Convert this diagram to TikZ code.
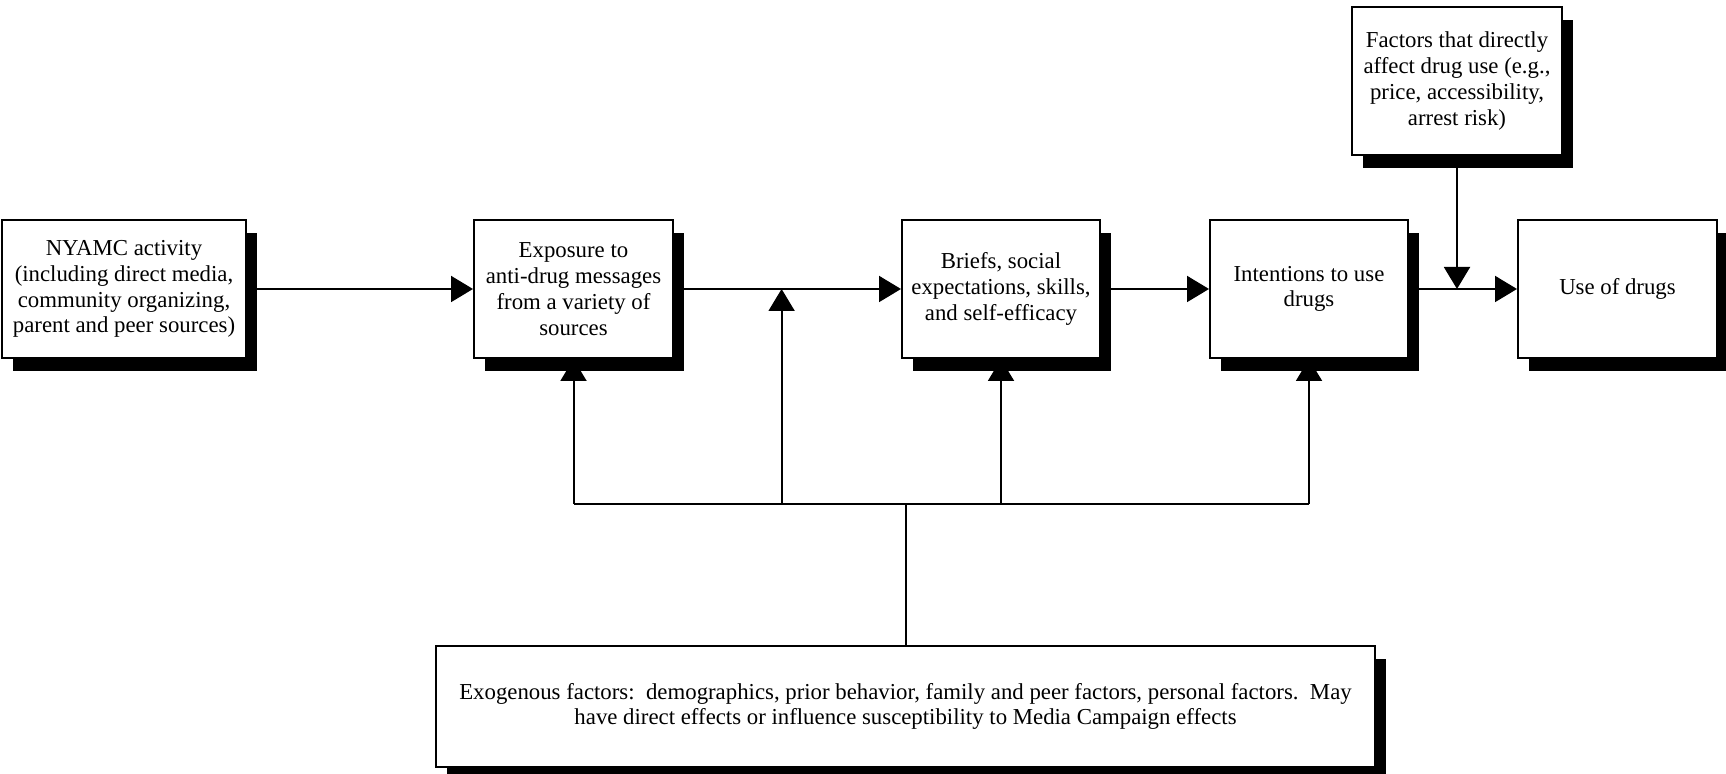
\documentclass[tikz,border=0pt]{standalone}
\usepackage{fontspec}
\setmainfont{Liberation Serif}
\newfontfamily\tnr{Liberation Serif}
\usetikzlibrary{arrows.meta,shadows,backgrounds}
\begin{document}
\begin{tikzpicture}[x=0.5pt,y=-0.5pt,
  box/.style={draw=black, line width=1pt, fill=white, align=center, inner sep=0pt,
    font=\tnr\fontsize{11.4}{12.9}\selectfont,
    drop shadow={shadow xshift=5.5pt, shadow yshift=-6.5pt, opacity=1, fill=black}},
  link/.style={draw=black, line width=1pt},
  arr/.style={link, -{Triangle[length=11pt,width=13pt]}}]
\useasboundingbox (0,0) rectangle (1726,774);
\node[box, minimum width=122pt, minimum height=69pt] (nyamc) at (124,289)
  {NYAMC activity\\(including direct media,\\community organizing,\\parent and peer sources)};
\node[box, minimum width=99.5pt, minimum height=69pt] (expo) at (573.5,289)
  {Exposure to\\anti-drug messages\\from a variety of\\sources};
\node[box, minimum width=99pt, minimum height=69pt] (briefs) at (1001,289)
  {Briefs, social\\expectations, skills,\\and self-efficacy};
\node[box, minimum width=99pt, minimum height=69pt] (intent) at (1309,289)
  {Intentions to use\\drugs};
\node[box, minimum width=99.5pt, minimum height=69pt] (use) at (1617.5,289)
  {Use of drugs};
\node[box, minimum width=105pt, minimum height=74pt] (factors) at (1457,81)
  {Factors that directly\\affect drug use (e.g.,\\price, accessibility,\\arrest risk)};
\node[box, minimum width=469.5pt, minimum height=60.5pt] (exo) at (905.5,706.5)
  {Exogenous factors:\ \ demographics, prior behavior, family and peer factors, personal factors.\ \ May\\have direct effects or influence susceptibility to Media Campaign effects};
\coordinate (bus) at (0,504);
\coordinate (j) at (781.6,289);
\begin{scope}[on background layer]
  \draw[arr] (nyamc.east) -- (expo.west);
  \draw[arr] (expo.east) -- (briefs.west);
  \draw[arr] (briefs.east) -- (intent.west);
  \draw[arr] (intent.east) -- (use.west);
  \draw[arr] (factors.south) -- (factors.south |- use.west);
  \draw[link] (exo.north) -- (exo.north |- bus);
  \draw[link] (expo.south |- bus) -- (intent.south |- bus);
  \draw[arr] (expo.south |- bus) -- (expo.south);
  \draw[arr] (briefs.south |- bus) -- (briefs.south);
  \draw[arr] (intent.south |- bus) -- (intent.south);
  \draw[arr] (j |- bus) -- (j);
\end{scope}
\end{tikzpicture}
\end{document}
